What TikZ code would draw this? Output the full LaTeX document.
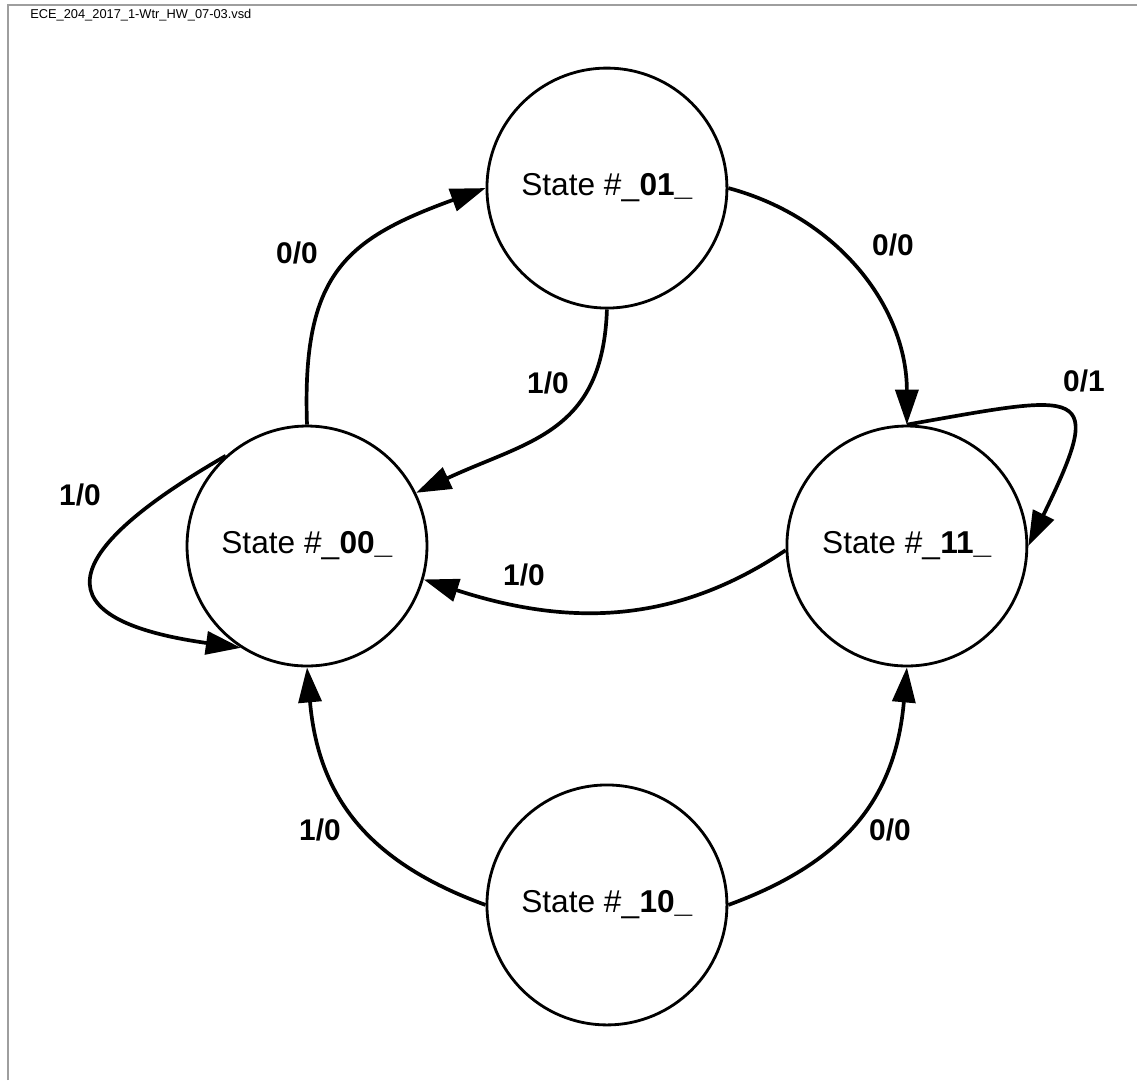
\documentclass[tikz,border=0pt]{standalone}
\usepackage{fontspec}
\setmainfont{Liberation Sans}
\usetikzlibrary{arrows.meta, automata, positioning}

\begin{document}
\begin{tikzpicture}[x=0.02cm, y=0.02cm, node distance=6cm, on grid,
		every state/.style={draw, line width=1.6pt, minimum size=4.8cm, inner sep=0pt,
			font=\fontsize{18}{20}\selectfont},
		trans/.style={line width=2.1pt, -{Triangle[length=0.7cm, width=0.46cm]}},
		lbl/.style={font=\fontsize{17}{19}\selectfont\bfseries, inner sep=0pt}]
		\useasboundingbox (0,0) rectangle (1137,-1080);
		\draw[black!38, line width=0.04cm] (8,-1080) -- (8,-5) -- (1137,-5);
		\node[anchor=base west, inner sep=0pt, font=\fontsize{7.3}{8}\selectfont] (title) at (30,-18) {ECE\_204\_2017\_1-Wtr\_HW\_07-03.vsd};
		
		\node[state] (n00) at (307,-546) {State \#\_\textbf{00\_}};
		\node[state, right = 12cm of n00] (n11) {State \#\_\textbf{11\_}};
		\node[state, above right = 7.16cm and 6cm of n00] (n01) {State \#\_\textbf{01\_}};
		\node[state, below right = 7.18cm and 6cm of n00] (n10) {State \#\_\textbf{10\_}};
		
		\path[trans] (n00.north) edge[out=92, in=200, looseness=1.3] (n01.west)
		(n01.east) edge[out=-15, in=90]                   (n11.north)
		(n01.south) edge[out=-92, in=25, looseness=1.2]   (n00.26)
		(n11.north) edge[out=10, in=64, distance=3.6cm]   (n11.east)
		(n11.182) edge[out=214, in=-18]                   (n00.-16)
		(n00.132) edge[out=210, in=172, distance=4cm]     (n00.237)
		(n10.west) edge[out=160, in=-85, looseness=1.1]   (n00.south)
		(n10.east) edge[out=20, in=-95, looseness=1.1]    (n11.south);
		
		\node[lbl] (l0100) at (297,-253) {0/0};
		\node[lbl] (l0111) at (893,-245) {0/0};
		\node[lbl] (l0100b) at (548,-383) {1/0};
		\node[lbl] (l1111) at (1084,-381) {0/1};
		\node[lbl] (l1100) at (524,-575) {1/0};
		\node[lbl] (l0000) at (80,-495) {1/0};
		\node[lbl] (l1000) at (320,-830) {1/0};
		\node[lbl] (l1011) at (890,-830) {0/0};
\end{tikzpicture}
\end{document}
